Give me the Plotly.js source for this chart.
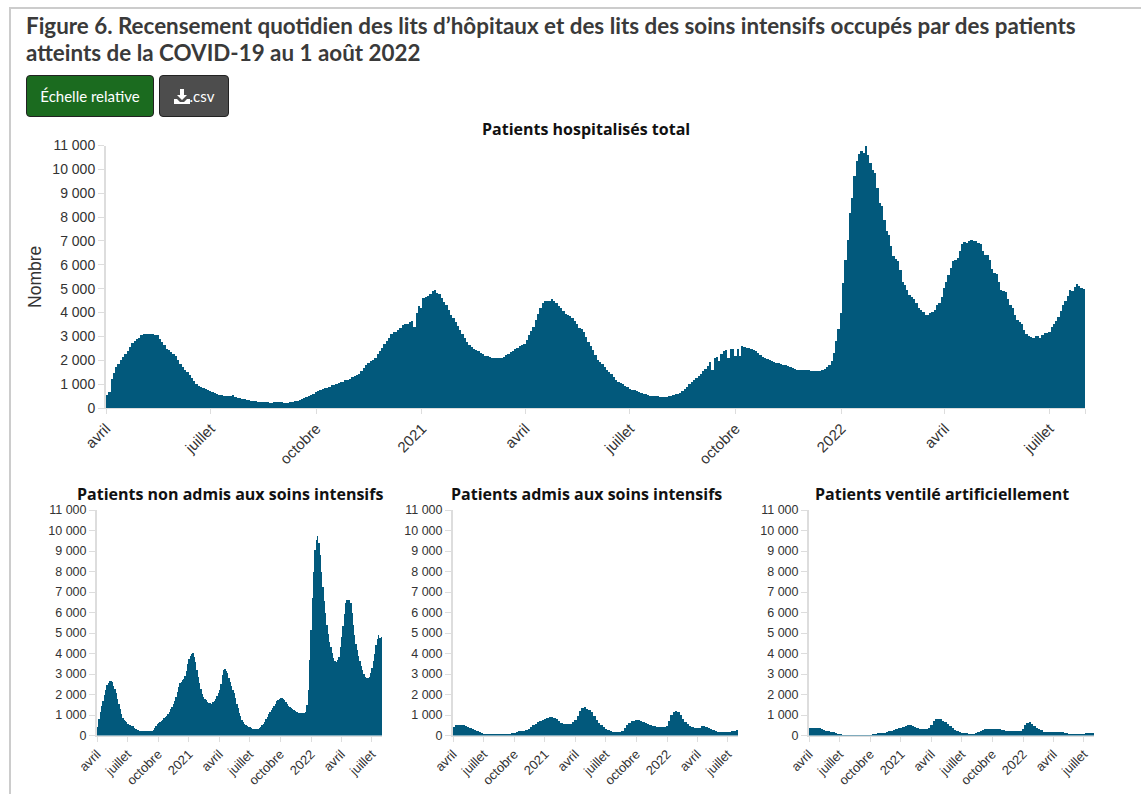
<!DOCTYPE html>
<html lang="fr">
<head>
<meta charset="utf-8">
<script src="https://cdn.plot.ly/plotly-3.0.1.min.js"></script>
<style>
html,body{margin:0;padding:0;background:#fff;width:1141px;height:794px;overflow:hidden}
#frame{position:absolute;left:9px;top:7px;right:-4px;bottom:-4px;border:2px solid #ccc}
#chart{position:absolute;left:0;top:0;width:1141px;height:794px}
#figtitle{position:absolute;left:26px;top:12px;width:1100px;font:700 22.4px/27px Lato,sans-serif;color:#3a3a3a;z-index:5}
.btn{position:absolute;top:75px;height:40px;border:1px solid #222;border-radius:4px;color:#fff;font:15px Lato,sans-serif;display:flex;align-items:center;justify-content:center;z-index:5}
#rel{left:26px;width:126px;background:#1b6b1f}
#csv{left:159px;width:68px;background:#4d4d4d}
#csv svg{margin-right:0}
</style>
</head>
<body>
<div id="frame"></div>
<div id="chart"></div>
<div id="figtitle">Figure 6. Recensement quotidien des lits d’hôpitaux et des lits des soins intensifs occupés par des patients<br>atteints de la COVID-19 au 1 août 2022</div>
<div id="rel" class="btn">Échelle relative</div>
<div id="csv" class="btn"><svg width="16" height="15" viewBox="0 0 16 15"><path d="M6 0h4v6h3l-5 5-5-5h3z M0 10h3l3 3h4l3-3h3v5H0z" fill="#fff"/></svg>.csv</div>
<script>
const panelTitles = ["Patients hospitalisés total","Patients non admis aux soins intensifs","Patients admis aux soins intensifs","Patients ventilé artificiellement"];
const tickDates = ["2020-04-01","2020-07-01","2020-10-01","2021-01-01","2021-04-01","2021-07-01","2021-10-01","2022-01-01","2022-04-01","2022-07-01"];
const tickLabels = ["avril","juillet","octobre","2021","avril","juillet","octobre","2022","avril","juillet"];
const yTicks = [0,1000,2000,3000,4000,5000,6000,7000,8000,9000,10000,11000];
const startDate = "2020-04-01";
const endDate = "2022-08-01";

// Patients hospitalisés total: one reading about every 2 days
const totalValues = [530,680,1230,1480,1700,1860,2000,2120,2250,2400,2560,2720,2810,2900,2950,3040,3090,3120,3100,3120,3090,3080,3040,2900,2770,2620,2490,2430,2350,2280,2170,2010,1830,1730,1610,1490,1370,1260,1130,1000,940,900,850,790,740,700,660,610,570,550,530,520,500,510,500,530,460,430,400,380,360,340,320,300,290,280,270,260,250,250,240,230,220,240,250,260,250,230,220,230,250,260,280,310,340,380,420,470,520,560,600,650,700,760,800,820,850,900,950,980,1010,1040,1080,1110,1160,1190,1220,1280,1330,1380,1440,1560,1690,1800,1890,1950,2000,2110,2250,2390,2530,2670,2810,2950,3090,3190,3200,3250,3350,3480,3510,3540,3610,3650,3400,4000,4270,4200,4590,4660,4700,4780,4910,4940,4830,4760,4590,4460,4310,4100,3890,3760,3610,3450,3260,3110,2950,2780,2630,2560,2490,2430,2370,2310,2250,2200,2170,2130,2110,2100,2100,2100,2110,2150,2210,2270,2350,2400,2460,2530,2590,2640,2700,2860,3050,3230,3400,3680,3960,4200,4410,4480,4490,4500,4550,4480,4380,4290,4170,4060,3960,3900,3850,3760,3650,3540,
3370,3290,3190,2990,2770,2600,2420,2220,2030,1920,1830,1710,1580,1490,1410,1300,1190,1110,1050,990,940,870,810,770,740,700,670,630,600,570,550,520,500,490,490,480,480,470,480,490,520,540,570,600,
620,700,800,880,1000,1100,1190,1250,1340,1440,1530,1630,1780,1920,1600,2100,2120,1950,2250,2380,2430,2080,2490,2490,2180,2480,2180,2600,2570,2520,2500,2490,2440,2390,2300,2220,2150,2100,2060,2030,1980,1940,1900,1870,1850,1820,1800,1760,1720,1690,1650,1600,1590,1580,1590,1590,
1590,1570,1540,1530,1530,1540,1590,1650,1730,1800,1950,2300,2800,3300,3970,5230,6210,7050,8170,8800,9710,10340,10660,10760,10690,11000,10620,10270,9960,9850,9220,8590,8450,7890,7400,7260,6770,6350,6240,6140,5790,5300,5160,4950,4740,4650,4560,4390,4180,4110,4020,3900,3900,4000,4040,4110,4320,4390,4670,5020,5300,5580,5860,6140,6200,
6300,6600,6860,6970,6920,7010,7060,6980,7010,6900,6880,6600,6430,6400,6200,5830,5660,5600,5300,4940,4920,4880,4550,4300,4200,3900,3700,3600,3500,3250,3120,3020,2960,2950,3000,3000,2950,3050,3150,3160,3200,3400,3520,3650,3800,4050,4300,4480,4700,4950,4900,5080,5200,5130,5040,4970];
// Patients non admis aux soins intensifs: one reading about every 4 days
const wardValues = [420,800,1130,1420,1700,1980,2240,2460,2580,2650,2680,2600,2430,2250,2050,1780,1520,1270,1050,870,770,720,650,580,530,500,480,440,390,330,280,250,240,230,220,210,210,210,200,205,210,230,260,360,440,540,620,670,720,780,830,890,970,1040,1140,1280,1400,1540,1680,1880,2100,2360,2540,2620,2700,2770,2900,3150,3500,3720,3880,3960,4040,3850,3600,3200,2850,2540,2250,2020,1900,1800,1710,1640,1600,1570,1560,1620,1700,1790,1920,2050,2240,2500,2950,3180,3240,3150,3030,2800,2590,2400,2220,2070,1840,1560,1330,1100,930,770,660,570,510,470,430,400,360,340,330,330,320,330,370,430,490,580,670,790,910,1030,1130,1220,1330,1430,1560,1660,1710,1760,1850,1830,1780,1710,1620,1520,1450,1380,1330,1270,1230,1200,1170,1150,1120,1110,1110,1100,1090,1170,1500,2200,3700,5150,6700,8000,9050,9550,9750,9400,8820,8000,7250,6550,5980,5400,4950,4580,4300,4040,3800,3640,3570,3680,3850,4300,4800,5350,5950,6450,6620,6620,6600,6450,6000,5400,4900,4450,4170,3900,3620,3380,3180,2980,2850,2790,2800,2860,3050,3300,3620,4000,4420,4700,4900,4750,4800];
// Patients admis aux soins intensifs: one reading about every 7 days
const icuValues = [430,500,520,530,500,450,400,350,320,270,220,170,110,80,70,65,70,75,70,60,55,50,50,55,70,100,130,170,210,230,240,260,340,420,490,570,650,700,740,800,860,900,900,870,790,690,600,570,560,550,570,640,740,950,1180,1330,1380,1310,1260,1130,950,750,600,500,400,310,250,200,170,150,160,180,240,350,500,620,690,720,750,760,720,680,620,570,500,460,440,430,420,410,430,470,700,1000,1150,1210,1150,1000,800,680,560,480,400,370,360,390,440,450,420,370,320,280,220,170,150,150,160,170,190,210,230,260];
// Patients ventilé artificiellement: one reading about every 7 days
const ventValues = [370,390,385,370,350,320,280,240,210,180,150,110,80,50,40,35,35,35,30,30,25,25,25,25,30,35,45,60,80,105,120,125,135,170,210,240,270,310,350,380,420,470,490,490,450,400,350,320,310,310,320,370,500,700,790,810,790,720,640,540,440,350,280,220,170,140,120,100,90,85,90,110,170,240,290,310,320,310,330,340,340,310,280,260,240,230,220,210,210,210,220,300,500,620,640,560,480,390,310,250,190,170,170,170,180,190,180,160,150,130,110,95,85,85,85,85,90,95,100,110,115,110];

const W = 1141, H = 794, BAR = "#02597c", TXT = "#333";
const T0 = Date.parse(startDate+"T00:00:00Z"), SPAN = (Date.parse(endDate+"T00:00:00Z")-T0);
const fx = (a,b) => [a/W, b/W];
const fy = (top,bottom) => [1-bottom/H, 1-top/H];
const barTrace = (vals, xa, ya, name) => {
  const step = SPAN/vals.length;
  return {type:"bar", name, x:vals.map((_,i)=>new Date(T0+(i+.5)*step).toISOString().slice(0,19)), y:vals, width:step, xaxis:xa, yaxis:ya, marker:{color:BAR, line:{width:0}}, hovertemplate:"%{x|%Y-%m-%d}: %{y}<extra></extra>"};
};
const xAxis = (dom, size, anchor, extra) => ({domain:fx(...dom), anchor, type:"date", range:[startDate,endDate], tickmode:"array",
  tickvals: extra ? tickDates.concat(endDate) : tickDates, ticktext: extra ? tickLabels.concat("") : tickLabels,
  tickangle:-45, ticks:"outside", ticklen:5, tickcolor:"#ddd", showgrid:false, showline:true, linecolor:"#ddd", linewidth:1, zeroline:false, tickfont:{family:"Liberation Sans", size, color:TXT}});
const yAxis = (dom, size, anchor, title) => ({domain:fy(...dom), anchor, range:[0,11000], tickmode:"array", tickvals:yTicks, tickformat:",d",
  ticks:"outside", ticklen:6, tickcolor:"#ddd", showgrid:false, showline:true, linecolor:"#ddd", linewidth:2, zeroline:false, tickfont:{family:"Liberation Sans", size, color:TXT},
  title: title ? {text:title, standoff:6, font:{family:"Liberation Sans", size:17.5, color:TXT}} : undefined});
const head = (text, cx, cy) => ({text:"<b>"+text+"</b>", xref:"paper", yref:"paper", x:cx/W, y:1-cy/H, xanchor:"center", yanchor:"middle", showarrow:false, font:{family:"Open Sans", size:16, color:"#111"}});

const traces = [
  barTrace(totalValues, "x", "y", panelTitles[0]),
  barTrace(wardValues, "x2", "y2", panelTitles[1]),
  barTrace(icuValues, "x3", "y3", panelTitles[2]),
  barTrace(ventValues, "x4", "y4", panelTitles[3])
];
const layout = {
  width:W, height:H, margin:{l:0,r:0,t:0,b:0}, showlegend:false, bargap:0, separators:", ",
  paper_bgcolor:"rgba(0,0,0,0)", plot_bgcolor:"rgba(0,0,0,0)",
  xaxis:xAxis([106,1085],15,"y",true), yaxis:yAxis([145.5,408],14,"x","Nombre"),
  xaxis2:xAxis([97,382],13,"y2"), yaxis2:yAxis([510,735.5],12.5,"x2"),
  xaxis3:xAxis([453,738],13,"y3"), yaxis3:yAxis([510,735.5],12.5,"x3"),
  xaxis4:xAxis([809,1094],13,"y4"), yaxis4:yAxis([510,735.5],12.5,"x4"),
  annotations:[head(panelTitles[0],586,129), head(panelTitles[1],230,494), head(panelTitles[2],586,494), head(panelTitles[3],942,494)]
};
Plotly.newPlot("chart", traces, layout, {displayModeBar:false, staticPlot:true});
</script>
</body>
</html>
